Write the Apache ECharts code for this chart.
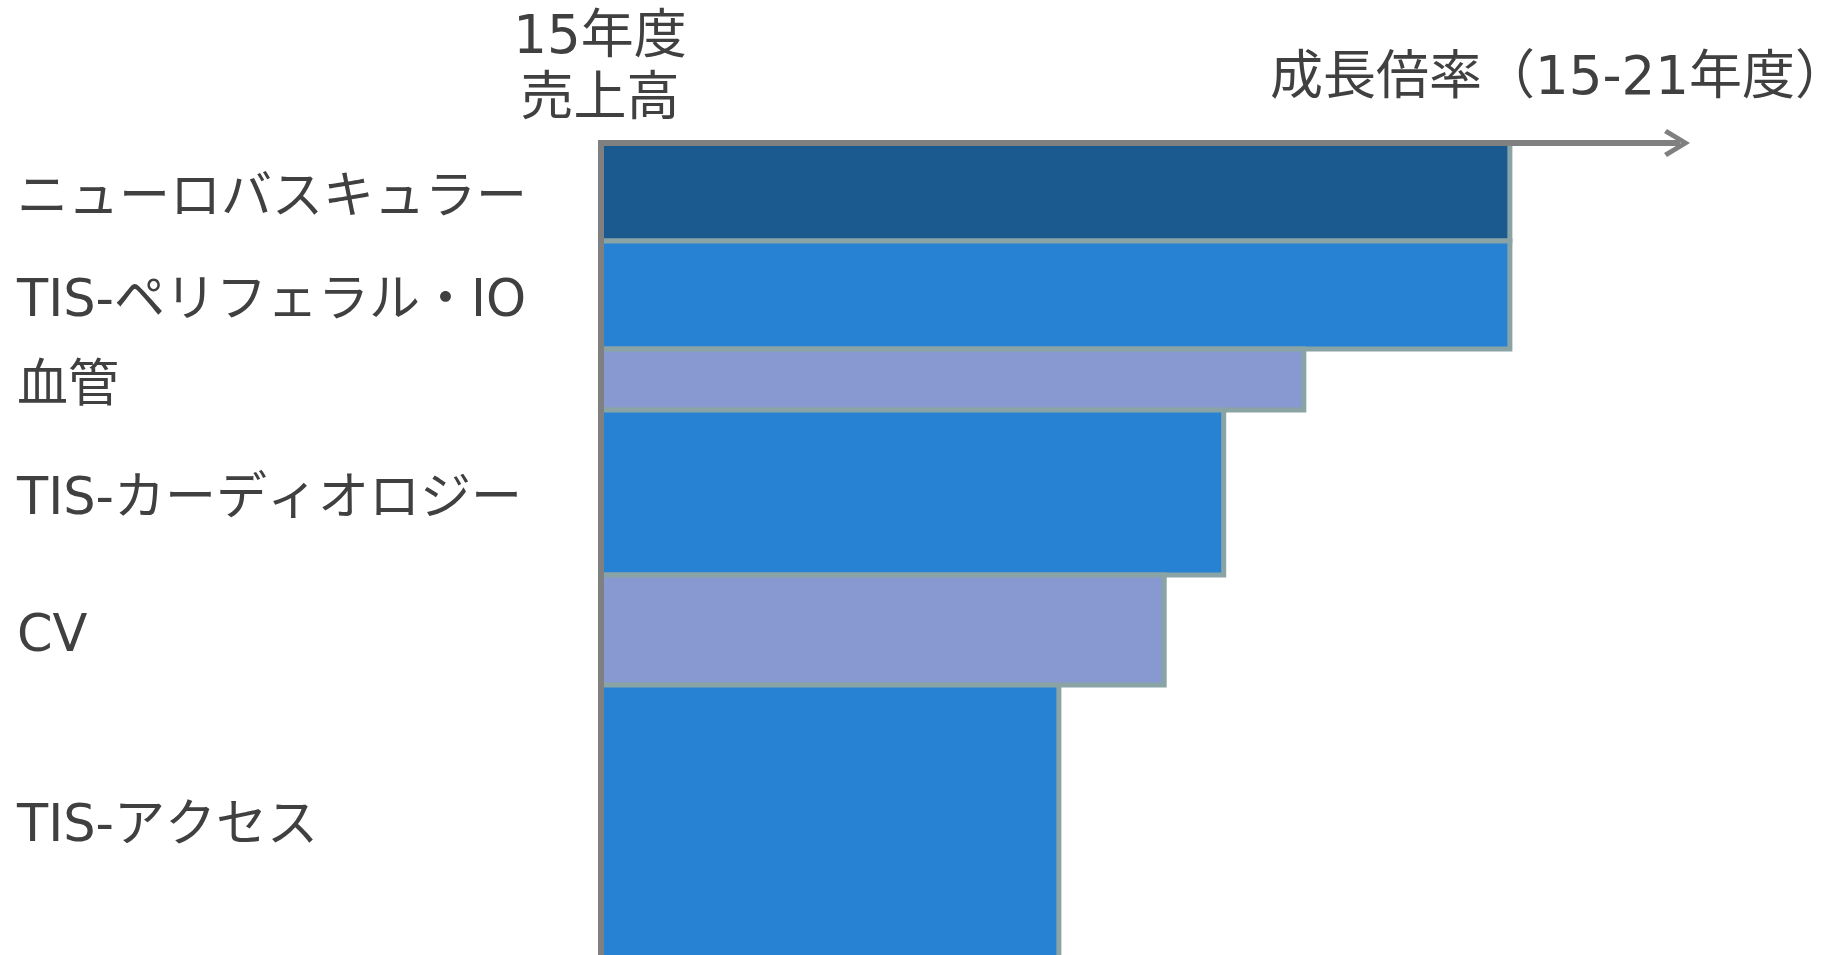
<!DOCTYPE html>
<html><head><meta charset="utf-8">
<script src="https://cdn.jsdelivr.net/npm/echarts@6/dist/echarts.min.js"></script>
<style>html,body{margin:0;padding:0;background:#fff}#c{width:1827px;height:955px}</style>
</head><body><div id="c"></div>
<script>
// ---- data ----
const categories = ['ニューロバスキュラー', 'TIS-ペリフェラル・IO', '血管', 'TIS-カーディオロジー', 'CV', 'TIS-アクセス'];
const sales15 = [98, 108, 61, 165, 110, 300];        // 15年度売上高 (bar thickness)
const growth1521 = [1.985, 1.985, 1.535, 1.36, 1.23, 1.0]; // 成長倍率 15-21年度 (bar length)
const headerSales = '15年度\n売上高';
const headerGrowth = '成長倍率（15-21年度）';
const salesAxisMax = 812;
const growthAxisMax = 2.35;

// ---- styles ----
const fillColors = ['#1B5A8E', '#2782D4', '#8898D0', '#2782D4', '#8898D0', '#2782D4'];
const FONT = "'DejaVu Sans', 'Noto Sans CJK JP', sans-serif";
const TEXT = '#404040';

const seriesData = [];
let acc = 0;
sales15.forEach((v, i) => {
  seriesData.push([acc, acc + v, growth1521[i], i]);
  acc += v;
});

const chart = echarts.init(document.getElementById('c'), null, {renderer: 'canvas'});
chart.setOption({
  animation: false,
  grid: {left: 601, top: 143, right: 150, bottom: 0},
  xAxis: {
    type: 'value', min: 0, max: growthAxisMax, position: 'top', z: 10,
    axisLine: {show: true, onZero: false,
      lineStyle: {color: '#808080', width: 6, cap: 'square'},
      symbol: ['none', 'path://M14,0 L28,23 L24,26 L14,9 L4,26 L0,23 Z'],
      symbolSize: [28, 26]},
    axisTick: {show: false}, axisLabel: {show: false}, splitLine: {show: false}
  },
  yAxis: {
    type: 'value', min: 0, max: salesAxisMax, inverse: true, z: 10,
    axisLine: {show: true, onZero: false, lineStyle: {color: '#808080', width: 6, cap: 'square'}},
    axisTick: {show: false}, axisLabel: {show: false}, splitLine: {show: false}
  },
  graphic: [
    {type: 'text', x: 600, y: 8, style: {text: headerSales, fill: TEXT, fontFamily: FONT, fontSize: 53, lineHeight: 62, align: 'center', verticalAlign: 'top'}},
    {type: 'text', x: 1270, y: 80, style: {text: headerGrowth, fill: TEXT, fontFamily: FONT, fontSize: 53, align: 'left', verticalAlign: 'middle'}}
  ],
  series: [{
    type: 'custom',
    clip: false,
    data: seriesData,
    renderItem: function (params, api) {
      const s = api.value(0), e = api.value(1), g = api.value(2), i = api.value(3);
      const p0 = api.coord([0, s]);
      const p1 = api.coord([g, e]);
      const cs = params.coordSys;
      const visBottom = Math.min(p1[1], cs.y + cs.height);
      return {
        type: 'group',
        children: [
          {type: 'rect', shape: {x: p0[0], y: p0[1], width: p1[0] - p0[0], height: p1[1] - p0[1]},
           style: {fill: fillColors[i], stroke: '#8AA3A5', lineWidth: 5}},
          {type: 'text', x: 17, y: (p0[1] + visBottom) / 2 + 8,
           style: {text: categories[i], fill: TEXT, fontFamily: FONT, fontSize: 51, align: 'left', verticalAlign: 'middle'}}
        ]
      };
    }
  }]
});
</script>
</body></html>
